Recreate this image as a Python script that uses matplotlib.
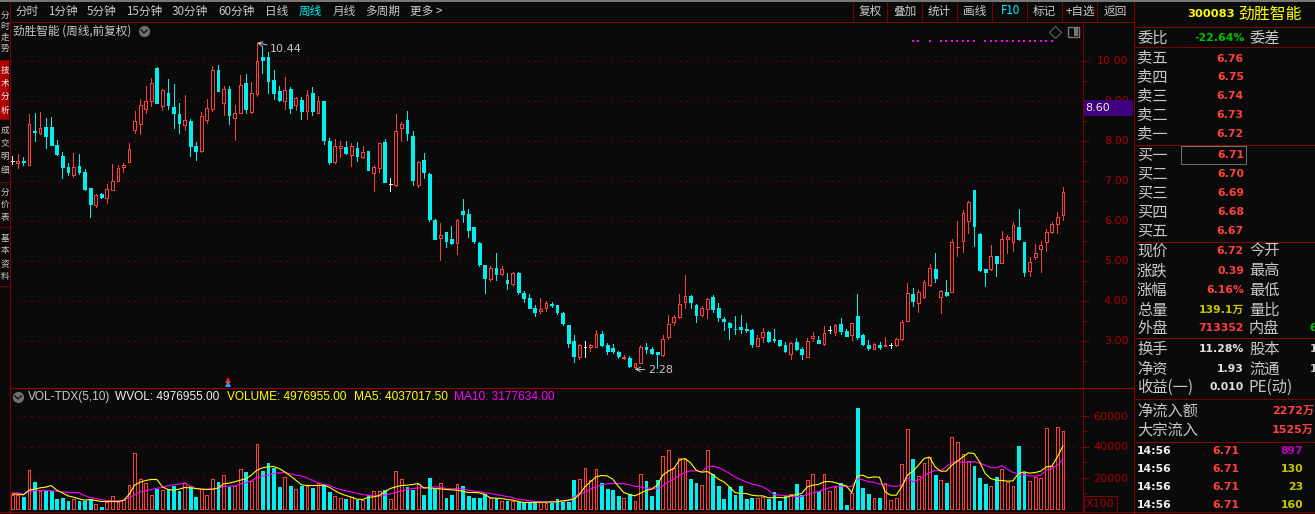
#Weekly candle chart with a volume pane, styled like a trading terminal
import numpy as np
import matplotlib
matplotlib.use("Agg")
import matplotlib.pyplot as plt
from matplotlib.patches import Rectangle

plt.rcParams['font.family'] = ['Noto Sans CJK SC', 'DejaVu Sans']

############## DATA ################
opens = [7.48,7.44,7.48,7.39,8.23,8.18,8.33,8.33,7.88,7.61,
         7.33,7.13,7.36,7.21,6.81,6.38,6.66,6.57,6.77,6.99,
         7.33,7.47,8.27,8.42,8.78,8.98,9.81,8.87,9.20,8.83,
         8.66,8.38,8.48,7.86,7.73,8.51,8.78,9.76,8.95,9.28,
         8.57,8.69,9.43,8.72,9.16,10.08,10.08,9.51,9.23,8.99,
         9.28,8.88,9.01,8.74,9.18,8.68,8.98,7.98,7.46,7.81,
         7.83,7.63,7.81,7.58,7.73,7.19,7.31,7.96,6.91,6.88,
         8.31,8.51,8.11,6.88,7.51,7.16,6.01,5.57,5.71,5.53,
         5.43,6.23,6.16,5.83,5.43,4.88,4.53,4.81,4.66,4.51,
         4.41,4.68,4.18,4.06,3.81,3.73,3.81,3.91,3.88,3.68,
         3.38,2.98,2.58,2.83,2.83,2.83,3.16,2.88,2.81,2.71,
         2.57,2.56,2.33,2.44,2.83,2.78,2.71,2.63,3.08,3.46,
         3.58,3.96,4.11,3.88,3.63,3.78,4.08,3.81,3.53,3.43,
         3.29,3.33,3.28,3.26,2.86,3.08,3.21,3.03,3.01,2.88,
         2.66,2.96,2.78,2.58,3.06,3.01,2.91,3.26,3.21,3.41,
         3.23,3.13,3.61,3.13,2.88,2.79,2.88,2.87,2.88,2.88,
         3.03,3.48,4.16,3.94,4.08,4.38,4.78,4.08,4.21,4.22,
         5.34,5.48,5.99,6.76,5.66,4.78,4.78,5.11,4.94,5.53,
         5.46,5.83,5.46,4.73,5.08,5.28,5.46,5.71,5.91,6.13]
closes = [7.48,7.48,7.46,8.40,8.22,8.30,8.11,7.88,7.66,7.34,
          7.21,7.33,7.21,6.78,6.41,6.65,6.59,6.80,7.00,7.31,
          7.40,7.78,8.48,8.88,8.98,9.43,8.94,9.26,8.88,8.68,
          8.43,8.50,7.86,7.73,8.60,8.81,9.75,9.23,9.28,8.63,
          8.70,9.38,8.78,9.18,10.00,10.01,9.48,9.18,9.01,9.26,
          8.81,9.05,8.73,9.13,8.73,8.98,8.01,7.46,7.86,7.86,
          7.68,7.86,7.61,7.71,7.26,7.33,7.93,6.96,6.91,8.23,
          8.41,8.18,7.01,7.47,7.21,6.03,5.55,5.63,5.48,5.43,
          6.01,6.16,5.76,5.48,4.91,4.56,4.81,4.66,4.78,4.43,
          4.68,4.21,4.06,3.81,3.71,3.80,3.93,3.88,3.71,3.43,
          2.93,2.61,2.90,2.83,2.88,3.16,2.88,2.73,2.73,2.61,
          2.58,2.36,2.43,2.83,2.78,2.68,2.66,3.03,3.41,3.58,
          3.91,4.11,3.96,3.63,3.81,4.03,3.78,3.58,3.48,3.33,
          3.28,3.28,3.26,2.91,3.06,3.21,2.98,3.01,2.88,2.73,
          2.95,2.78,2.66,2.98,3.11,2.93,3.18,3.26,3.40,3.23,
          3.11,3.43,3.08,2.91,2.81,2.91,2.83,2.90,2.88,3.05,
          3.46,4.18,3.98,4.21,4.46,4.81,4.56,4.23,4.13,5.46,
          5.35,6.18,6.46,5.86,4.76,4.71,5.11,4.93,5.53,5.58,
          5.88,5.53,4.71,4.96,5.18,5.38,5.71,5.91,6.08,6.72]
highs = [7.61,7.66,7.58,8.66,8.68,8.71,8.56,8.58,8.01,7.71,
         7.45,7.68,7.66,7.28,6.82,6.66,6.70,6.92,7.41,7.38,
         7.45,7.93,8.75,9.05,9.36,9.56,9.85,9.30,9.53,9.41,
         8.93,9.13,8.53,7.96,8.71,9.03,9.86,9.88,9.36,9.36,
         8.88,9.63,9.66,9.46,10.44,10.36,10.21,9.76,9.36,9.58,
         9.33,9.08,9.08,9.26,9.33,9.11,8.98,8.06,8.03,7.98,
         7.98,7.93,7.96,7.86,7.73,7.38,7.93,8.03,7.06,8.66,
         8.46,8.73,8.23,7.48,7.68,7.18,6.05,5.93,5.71,5.86,
         6.03,6.53,6.28,5.83,5.46,4.88,4.86,5.18,4.86,4.68,
         4.71,4.71,4.23,4.16,3.88,4.06,4.00,3.96,3.88,3.71,
         3.38,3.13,2.91,2.98,2.91,3.26,3.23,2.93,2.91,2.73,
         2.63,2.61,2.43,2.88,2.93,2.83,2.71,3.13,3.63,3.63,
         4.16,4.63,4.13,3.91,3.86,4.06,4.13,3.93,3.58,3.46,
         3.61,3.63,3.43,3.28,3.13,3.31,3.23,3.28,3.01,2.96,
         2.96,3.06,2.83,3.06,3.21,3.11,3.36,3.36,3.41,3.56,
         3.28,3.43,4.16,3.16,3.01,2.93,2.96,3.08,2.93,3.06,
         3.51,4.43,4.31,4.26,4.51,4.91,5.18,4.26,4.51,5.53,
         5.98,6.26,6.48,6.76,5.68,4.78,5.38,5.11,5.73,5.63,
         5.96,6.28,5.46,5.08,5.41,5.48,5.78,5.96,6.21,6.83]
lows = [7.41,7.32,7.38,7.39,7.98,8.17,7.81,7.88,7.63,7.07,
        7.13,7.08,7.16,6.76,6.08,6.33,6.56,6.43,6.76,6.98,
        7.22,7.46,8.18,8.16,8.70,8.86,8.94,8.76,8.80,8.31,
        8.19,8.26,7.61,7.51,7.71,8.45,8.73,9.23,8.63,8.41,
        8.01,8.68,8.68,8.69,9.11,9.69,9.18,9.03,8.98,8.78,
        8.68,8.76,8.53,8.54,8.63,8.68,7.91,7.41,7.43,7.58,
        7.66,7.36,7.48,7.56,7.26,6.73,7.21,6.96,6.73,6.86,
        7.98,8.01,6.88,6.83,7.06,6.00,5.53,5.01,5.33,5.42,
        5.16,5.96,5.58,5.43,4.86,4.18,4.48,4.51,4.63,4.28,
        4.36,4.16,3.96,3.81,3.61,3.68,3.73,3.83,3.66,3.38,
        2.83,2.46,2.53,2.58,2.73,2.83,2.86,2.66,2.70,2.56,
        2.53,2.33,2.28,2.43,2.68,2.66,2.31,2.61,3.03,3.38,
        3.56,3.81,3.81,3.46,3.61,3.56,3.71,3.48,3.26,3.03,
        3.16,3.18,3.21,2.83,2.86,2.96,2.96,2.96,2.86,2.71,
        2.53,2.76,2.53,2.58,2.98,2.93,2.88,3.18,3.13,3.16,
        3.11,3.01,3.03,2.88,2.76,2.78,2.78,2.86,2.81,2.86,
        3.01,3.48,3.86,3.71,4.06,4.36,4.46,3.68,4.11,4.21,
        5.11,5.21,5.68,5.36,4.73,4.36,4.76,4.61,4.93,5.18,
        5.23,5.51,4.61,4.61,5.03,4.71,5.23,5.68,5.68,6.01]

volumes = [8600,8600,7310,24725,16985,11180,11180,11610,6020,6665,
           4730,6020,4730,4945,6020,3225,1075,4300,7955,4515,
           5375,15050,36120,18920,16340,9030,12685,11825,12900,14405,
           11180,16770,14405,7310,12470,9030,19350,16985,21500,13975,
           14405,25370,23435,17845,41495,24080,29240,26015,13975,20210,
           14405,12900,14405,14405,13545,16340,15050,10750,7955,7095,
           6020,7310,5375,5375,8600,11180,11180,11825,6020,24080,
           18920,13760,11825,15910,8600,19565,13115,16340,6665,8600,
           15695,14405,7955,6665,6665,9245,6665,6665,4730,4730,
           4945,4300,4085,4085,4945,4085,3870,3870,6020,4515,
           4515,18275,19350,26015,18275,25800,16340,12470,11825,7955,
           7095,9675,4730,22575,17630,7955,18275,33755,37625,26445,
           32895,32035,18920,16340,15050,37625,22145,14405,6020,13760,
           8600,14405,6020,6665,7095,7310,6020,10535,4730,8600,
           9675,15695,8600,18275,22575,11180,22575,11610,13975,16340,
           2150,9890,64715,13115,9245,6665,6665,16770,5375,7095,
           28595,51170,31820,20855,29670,33110,21500,18275,16340,46010,
           42785,35475,30530,27305,19565,15695,14405,20210,25370,16985,
           14405,40205,23435,17630,20210,19565,51815,27305,52460,49770]
vol_ma5 = [9245,9245,8815,11825,12470,13330,13760,14835,11825,10105,
           8170,7310,6235,5375,5805,5160,4515,4515,4515,4515,
           5160,9030,15050,16985,18060,18705,18705,13975,12255,11825,
           12470,13545,13330,12900,12470,12255,12470,13115,15910,16340,
           17200,18275,19135,21500,24725,26230,26875,27090,25800,23650,
           21070,18275,15265,14835,14835,14835,15050,13760,11610,9675,
           8385,7310,6020,5805,7095,7525,8385,10750,12900,13975,
           14835,15050,15480,16125,13330,13330,12900,12685,12255,12040,
           11825,11180,10320,10320,10105,9030,6880,6665,6450,5805,
           5375,4515,3870,3870,3870,4085,4085,4300,4300,4945,
           5375,6020,9030,13975,17200,20425,21285,21070,18920,14405,
           10320,9030,8170,9890,11610,12470,15050,21500,24080,25800,
           31175,32250,29455,24725,23435,23865,21930,18920,17200,13975,
           10320,9675,9675,8600,8170,8170,6880,7095,7095,6880,
           8170,9030,9675,13975,15050,15480,17200,17415,16770,15480,
           14620,10320,21070,21500,19780,20425,20210,10750,8600,8600,
           13975,21500,24080,27950,32250,33110,26875,24080,24080,27950,
           30530,33325,35905,35475,30100,22575,19350,18275,18060,17630,
           17845,22575,23650,22790,23220,24080,26875,27305,33325,40370]
vol_ma10 = [10105,10105,9245,10965,11610,11610,11825,11395,11180,10750,
            10535,10320,10105,8385,7095,6450,5590,5160,4945,4945,
            5375,6880,8815,10750,11395,12255,13115,13545,14835,15265,
            15695,16555,14405,12900,12470,12470,12470,13115,14190,14405,
            14405,15910,16555,17845,19780,20855,21500,22575,23005,23220,
            22360,21500,21070,19780,18060,16555,15480,15050,13330,12255,
            11395,10750,9675,9030,8600,8170,7955,8600,9460,10320,
            11180,12255,12900,13330,13330,13330,13975,13760,12900,12685,
            12900,12685,11825,11180,10750,10105,9675,9030,8385,7740,
            7095,5805,5590,4945,4515,4300,4300,4085,4300,4730,
            4945,7310,9675,10320,12470,13975,15265,15910,16125,16125,
            15910,15265,14405,13975,13115,13115,12470,14620,17200,18920,
            21500,23220,24295,24295,23650,26660,27305,26445,24725,22575,
            20425,18705,17200,15910,15050,13975,11825,9030,8600,8385,
            7955,7740,7740,9245,10105,10750,12470,13330,14190,14405,
            14190,14190,19350,18490,17200,16985,15695,15480,14620,14190,
            15050,19780,17200,18275,21070,23220,24510,24510,26875,29670,
            30530,29670,29885,30315,29240,27950,26445,26230,27735,25370,
            23220,22360,21930,21070,20855,21500,24725,25800,27950,31776]

signal_weeks = [162,163,165,167,168,169,170,171,172,173,175,176,177,178,179,
                180,181,182,183,184,185,186,187]

price_ticks = [3, 4, 5, 6, 7, 8, 9, 10]
vol_ticks = [20000, 40000, 60000]

toolbar_left = [("分时",15), ("1分钟",48), ("5分钟",87), ("15分钟",126), ("30分钟",172),
                ("60分钟",218), ("日线",265), ("周线",299), ("月线",333), ("多周期",365), ("更多 >",410)]
toolbar_right = [("复权",859), ("叠加",893), ("统计",928), ("画线",963), ("F10",1001),
                 ("标记",1033), ("+自选",1066), ("返回",1104)]
toolbar_seps = [853, 887, 922, 957, 992, 1027, 1062, 1097]

book_names = ["卖五","卖四","卖三","卖二","卖一","买一","买二","买三","买四","买五"]
book_prices = ["6.76","6.75","6.74","6.73","6.72","6.71","6.70","6.69","6.68","6.67"]
book_rows = [58.5,77.5,96,115,134,155,174,193,212,231]

quote_rows = [("现价","6.72","今开",251,"#ff4040"), ("涨跌","0.39","最高",271,"#ff4040"),
              ("涨幅","6.16%","最低",290,"#ff4040"), ("总量","139.1万","量比",310,"#c8c800"),
              ("外盘","713352","内盘",328,"#ff4040"), ("换手","11.28%","股本",349,"#e0e0e0"),
              ("净资","1.93","流通",369,"#e0e0e0"), ("收益(一)","0.010","PE(动)",387,"#e0e0e0")]
flow_rows = [("净流入额","2272万",411), ("大宗流入","1525万",430)]
tick_rows = [("14:56","6.71","897",451,"#c000c0"), ("14:56","6.71","130",469,"#c8c800"),
             ("14:56","6.71","23",487,"#c8c800"), ("14:56","6.71","160",505,"#c8c800")]

side_tabs = [("分时走势",10,53), ("技术分析",65,115), ("成交明细",125,175), ("分价表",187,222), ("基本资料",233,282)]

############## STYLE ################
BG = "#0a0a0a"
RED = "#ff3c3c"
CYAN = "#00f0f0"
WHITE = "#f0f0f0"
LINE = "#800000"
AXIS_TEXT = "#a80000"
GRAY = "#c8c8c8"
W, H = 1315, 514

def pane(top, bottom):
    """Axes spanning the chart width between two pixel rows"""
    ax = fig.add_axes([10 / W, (H - bottom) / H, 1073 / W, (bottom - top) / H])
    ax.patch.set_alpha(0)
    for s in ax.spines.values():
        s.set_visible(False)
    ax.set_xlim(-0.414, 192.6)
    ax.set_xticks([])
    ax.yaxis.tick_right()
    ax.tick_params(axis="y", which="major", direction="out", length=4.3, width=0.72, color=LINE,
                   labelcolor=AXIS_TEXT, labelsize=8, pad=28.5)
    ax.tick_params(axis="y", which="minor", direction="out", length=3, width=0.72, color=LINE)
    ax.grid(axis="y", which="major", color=LINE, linestyle=(0, (1.4, 5.5)), linewidth=0.72)
    ax.set_axisbelow(True)
    return ax

fig = plt.figure(figsize=(W / 100, H / 100), dpi=100, facecolor=BG)

############## PRICE PANE ################
ax = pane(22, 388)
ax.set_ylim(10 - (388 - 60.5) / 40, 10 + 38.5 / 40)
ax.set_yticks(price_ticks)
ax.set_yticklabels(["%.2f" % p for p in price_ticks], family="DejaVu Sans", ha="right")
ax.set_yticks(np.arange(2.5, 10.5, 0.5), minor=True)

x = np.arange(len(closes))
o = np.array(opens)
c = np.array(closes)
colors = [RED if c[i] > o[i] else CYAN if c[i] < o[i] else WHITE for i in x]
ax.vlines(x, lows, highs, colors=colors, linewidth=0.72, antialiased=False, zorder=2)
body_low = np.minimum(o, c)
body_high = np.maximum(o, c)
faces = [BG if col == RED else col for col in colors]
ax.bar(x, body_high - body_low, bottom=body_low, width=0.5, color=faces, edgecolor=colors,
       linewidth=0.72, antialiased=False, zorder=3)

# Signal dots along the top of the pane
ax.plot(signal_weeks, [10.49] * len(signal_weeks), linestyle="none", marker="s", markersize=1.8,
        color="#ff00ff", markeredgewidth=0, zorder=3)

############## VOLUME PANE ################
vx = pane(388, 512)
vx.set_ylim(-(512 - 508.5) / 31 * 20000, (508.5 - 388) / 31 * 20000)
vx.set_yticks(vol_ticks)
vx.set_yticklabels([str(v) for v in vol_ticks], family="DejaVu Sans", ha="right")
vx.set_yticks(np.arange(10000, 70000, 10000), minor=True)

v_colors = [CYAN if col == CYAN else RED for col in colors]
v_faces = [BG if col == RED else col for col in v_colors]
vx.bar(x, volumes, width=0.5, color=v_faces, edgecolor=v_colors, linewidth=0.72, antialiased=False, zorder=2)
vx.plot(x, vol_ma10, color="#ff00ff", linewidth=0.8, zorder=3)
vx.plot(x, vol_ma5, color="#ffff00", linewidth=0.8, zorder=4)

############## TERMINAL CHROME ################
ui = fig.add_axes([0, 0, 1, 1], zorder=5)
ui.patch.set_alpha(0)
ui.set_xlim(0, W)
ui.set_ylim(H, 0)
ui.axis("off")

def put(px, py, s, color=GRAY, size=8.4, ha="left", **kw):
    return ui.text(px, py, s, color=color, fontsize=size, ha=ha, va="center", **kw)

def hline(py, x0, x1, color=LINE, lw=0.72):
    ui.plot([x0, x1], [py, py], color=color, linewidth=lw, antialiased=False)

def vline(px, y0, y1, color=LINE, lw=0.72):
    ui.plot([px, px], [y0, y1], color=color, linewidth=lw, antialiased=False)

ui.add_patch(Rectangle((0, 0), W, 1.5, facecolor="#777777", edgecolor="none"))
hline(22, 10, 1134)
hline(388, 10, 1134, color="#a00000")
hline(512, 0, W)
vline(10, 2, 514)
vline(1083, 22, 512)
vline(1134, 2, 514)

# Toolbar
for label, px in toolbar_left:
    put(px, 11, label, color="#00f0f0" if label == "周线" else GRAY)
for label, px in toolbar_right:
    put(px, 11, label, color="#00f0f0" if label == "F10" else GRAY)
for px in toolbar_seps:
    vline(px, 2, 22)

# Side tabs, one stacked character per row in the narrow strip
ui.add_patch(Rectangle((0, 60), 9.5, 59, facecolor="#b00000", edgecolor="none"))
for label, y0, y1 in side_tabs:
    ys = np.linspace(y0 + 5, y1 - 5, len(label))
    for ch, py in zip(label, ys):
        put(0.5, py, ch, color=WHITE if label == "技术分析" else GRAY, size=6.2)
for py in [60, 119, 182, 227, 286]:
    hline(py, 0, 10)

# Title and small icons
put(13, 31, "劲胜智能 (周线,前复权)", size=8.4)
ui.plot([144], [31], marker="o", markersize=8, color="#707070", markeredgewidth=0)
ui.plot([141, 144, 147], [30, 33, 30], color="#101010", linewidth=1)
ui.plot([1055], [32], marker="D", markersize=6, markerfacecolor="none", markeredgecolor="#606060", markeredgewidth=0.8)
ui.add_patch(Rectangle((1068, 26.5), 11, 10, facecolor="none", edgecolor="#777777", linewidth=1))
ui.add_patch(Rectangle((1074, 27.5), 4, 8, facecolor="#777777", edgecolor="none"))

# High and low annotations
ax.annotate("10.44", xy=(44, 10.44), xytext=(46.3, 10.30), color=GRAY, fontsize=8, family="DejaVu Sans", va="center",
            arrowprops=dict(arrowstyle="->", color=GRAY, linewidth=0.7, shrinkA=0, shrinkB=0))
ax.annotate("2.28", xy=(112, 2.28), xytext=(114.3, 2.26), color=GRAY, fontsize=8, family="DejaVu Sans", va="center",
            arrowprops=dict(arrowstyle="->", color=GRAY, linewidth=0.7, shrinkA=0, shrinkB=0))

# Trade flags under the candles
ui.plot([228], [379.5], marker="^", markersize=4.5, color="#ff2020", markeredgewidth=0)
ui.plot([228], [384], marker="^", markersize=4.5, color="#30a0ff", markeredgewidth=0)

# Volume legend
ui.plot([18], [397], marker="o", markersize=8, color="#707070", markeredgewidth=0)
ui.plot([15, 18, 21], [396, 399, 396], color="#101010", linewidth=1)
leg = "Liberation Sans"
put(28, 397, "VOL-TDX(5,10)", family=leg, size=8.6)
put(115, 397, "WVOL: 4976955.00", family=leg, size=8.6, color=WHITE)
put(227, 397, "VOLUME: 4976955.00", family=leg, size=8.6, color="#ffff00")
put(354, 397, "MA5: 4037017.50", family=leg, size=8.6, color="#ffff00")
put(454, 397, "MA10: 3177634.00", family=leg, size=8.6, color="#ff00ff")

# Last price tag and scale box
ui.add_patch(Rectangle((1083.5, 100), 50, 16, facecolor="#400080", edgecolor="none"))
put(1085, 108, "8.60", color=WHITE, size=8, family="DejaVu Sans")
ui.add_patch(Rectangle((1084, 496), 33, 16, facecolor=BG, edgecolor=LINE, linewidth=0.72))
put(1086, 504, "X100", color=AXIS_TEXT, size=8, family="DejaVu Sans")

############## RIGHT PANEL ################
num = "DejaVu Sans"
put(1187, 14, "300083", color="#ffff00", size=8.2, family=num, weight="bold")
put(1238, 14, "劲胜智能", color="#ffff00", size=11.4)
put(1137, 38, "委比", size=11)
put(1245, 38, "-22.64%", color="#00c000", size=7.8, ha="right", family=num, weight="bold")
put(1249, 38, "委差", size=11)
for py in [27, 47, 144.5, 241.5, 338, 399, 442]:
    hline(py, 1134, W)

for name, price, py in zip(book_names, book_prices, book_rows):
    put(1137, py, name, size=11)
    put(1244, py, price, color="#ff4040", size=7.8, ha="right", family=num, weight="bold")
ui.add_patch(Rectangle((1181, 146), 65, 17.5, facecolor="none", edgecolor="#707070", linewidth=0.72))

for left, val, right, py, col in quote_rows:
    put(1137, py, left, size=11)
    put(1244, py, val, color=col, size=7.8, ha="right", family=["DejaVu Sans", "Noto Sans CJK SC"], weight="bold")
    put(1249, py, right, size=11)
put(1309, 328, "6", color="#00c000", size=7.8, family=num, weight="bold")
for py in [349, 369]:
    put(1310, py, "1", color=GRAY, size=7.8, family=num, weight="bold")

for left, val, py in flow_rows:
    put(1137, py, left, size=11)
    put(1314, py, val, color="#ff4040", size=8, ha="right", family=["DejaVu Sans", "Noto Sans CJK SC"], weight="bold")

for t, p, n, py, col in tick_rows:
    put(1137, py, t, color=WHITE, size=7.8, family=num, weight="bold")
    put(1239, py, p, color="#ff4040", size=7.8, ha="right", family=num, weight="bold")
    put(1303, py, n, color=col, size=7.8, ha="right", family=num, weight="bold")

fig.savefig("out.png", dpi=100, facecolor=BG)
